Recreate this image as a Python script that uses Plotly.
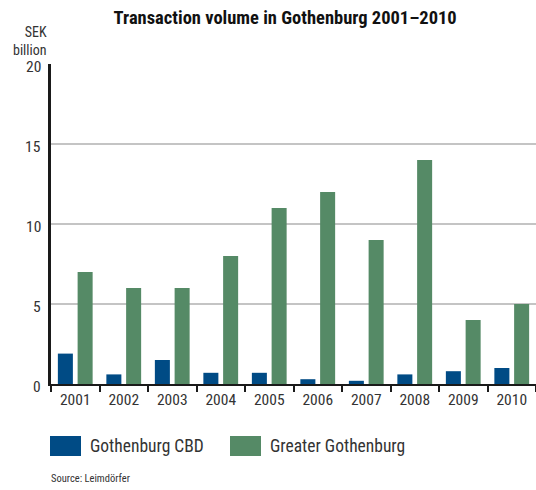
import plotly.graph_objects as go

years = ["2001", "2002", "2003", "2004", "2005", "2006", "2007", "2008", "2009", "2010"]
cbd = [1.9, 0.6, 1.5, 0.7, 0.7, 0.3, 0.2, 0.6, 0.8, 1.0]
greater = [7, 6, 6, 8, 11, 12, 9, 14, 4, 5]
y_ticks = [0, 5, 10, 15, 20]

series_names = ["Gothenburg CBD", "Greater Gothenburg"]
blue = "#004b85"
green = "#558a66"
FONT = "Liberation Sans Narrow, Roboto Condensed, Arial Narrow, sans-serif"

fig = go.Figure()
fig.add_trace(go.Bar(x=years, y=cbd, name=series_names[0], marker_color=blue,
                     marker_line_width=0))
fig.add_trace(go.Bar(x=years, y=greater, name=series_names[1], marker_color=green,
                     marker_line_width=0))

fig.update_layout(
    width=536, height=490,
    margin=dict(l=51, r=0, t=64, b=106),
    paper_bgcolor="white", plot_bgcolor="white",
    barmode="group", bargap=0.185, bargroupgap=0.24,
    showlegend=False,
    font=dict(family=FONT, color="#333333", size=15),
    title=dict(text="<b>Transaction volume in Gothenburg 2001–2010</b>",
               x=0.532, xanchor="center", y=0.965, yanchor="middle",
               font=dict(size=18.5, color="#111111", family=FONT)),
)

fig.update_xaxes(
    type="category", showline=True, linecolor="#1a1a1a", linewidth=2,
    ticks="outside", tickson="boundaries", ticklen=6, tickwidth=2,
    tickcolor="#1a1a1a", showgrid=False,
    tickfont=dict(size=15.5, color="#333333", family=FONT),
)
fig.update_yaxes(
    range=[0, 20], tickvals=y_ticks, showline=True, linecolor="#1a1a1a",
    linewidth=2.5, showgrid=True, gridcolor="#c4c4c4", gridwidth=1.5,
    zeroline=False, ticks="", showticklabels=False,
)

# y tick labels, set slightly below their gridlines
for v in y_ticks:
    fig.add_annotation(text=str(v), xref="paper", yref="y", x=0, y=v,
                       xanchor="right", yanchor="middle", xshift=-8, yshift=-3,
                       showarrow=False,
                       font=dict(size=15.5, color="#333333", family=FONT))

# axis unit label
fig.add_annotation(text="SEK<br>billion", xref="paper", yref="paper",
                   x=-0.004, y=1.0, xanchor="right", yanchor="bottom", yshift=4,
                   align="right", showarrow=False,
                   font=dict(size=14, color="#333333", family=FONT))

# legend swatches and labels
legend_items = [(50, 81, 88, blue), (230, 261, 268, green)]
for (x0, x1, xt, col), name in zip(legend_items, series_names):
    fig.add_shape(type="rect", xref="paper", yref="paper",
                  x0=(x0 - 51) / 485, x1=(x1 - 51) / 485,
                  y0=-(456 - 384) / 320, y1=-(436 - 384) / 320,
                  fillcolor=col, line_width=0)
    fig.add_annotation(text=name, xref="paper", yref="paper",
                       x=(xt - 51) / 485, y=-(446 - 384) / 320,
                       xanchor="left", yanchor="middle", showarrow=False,
                       font=dict(size=17.5, color="#333333", family=FONT))

fig.add_annotation(text="Source: Leimdörfer", xref="paper", yref="paper",
                   x=(49 - 51) / 485, y=-(478 - 384) / 320,
                   xanchor="left", yanchor="middle", showarrow=False,
                   font=dict(size=10.5, color="#333333", family=FONT))

fig.write_html("out.html")
